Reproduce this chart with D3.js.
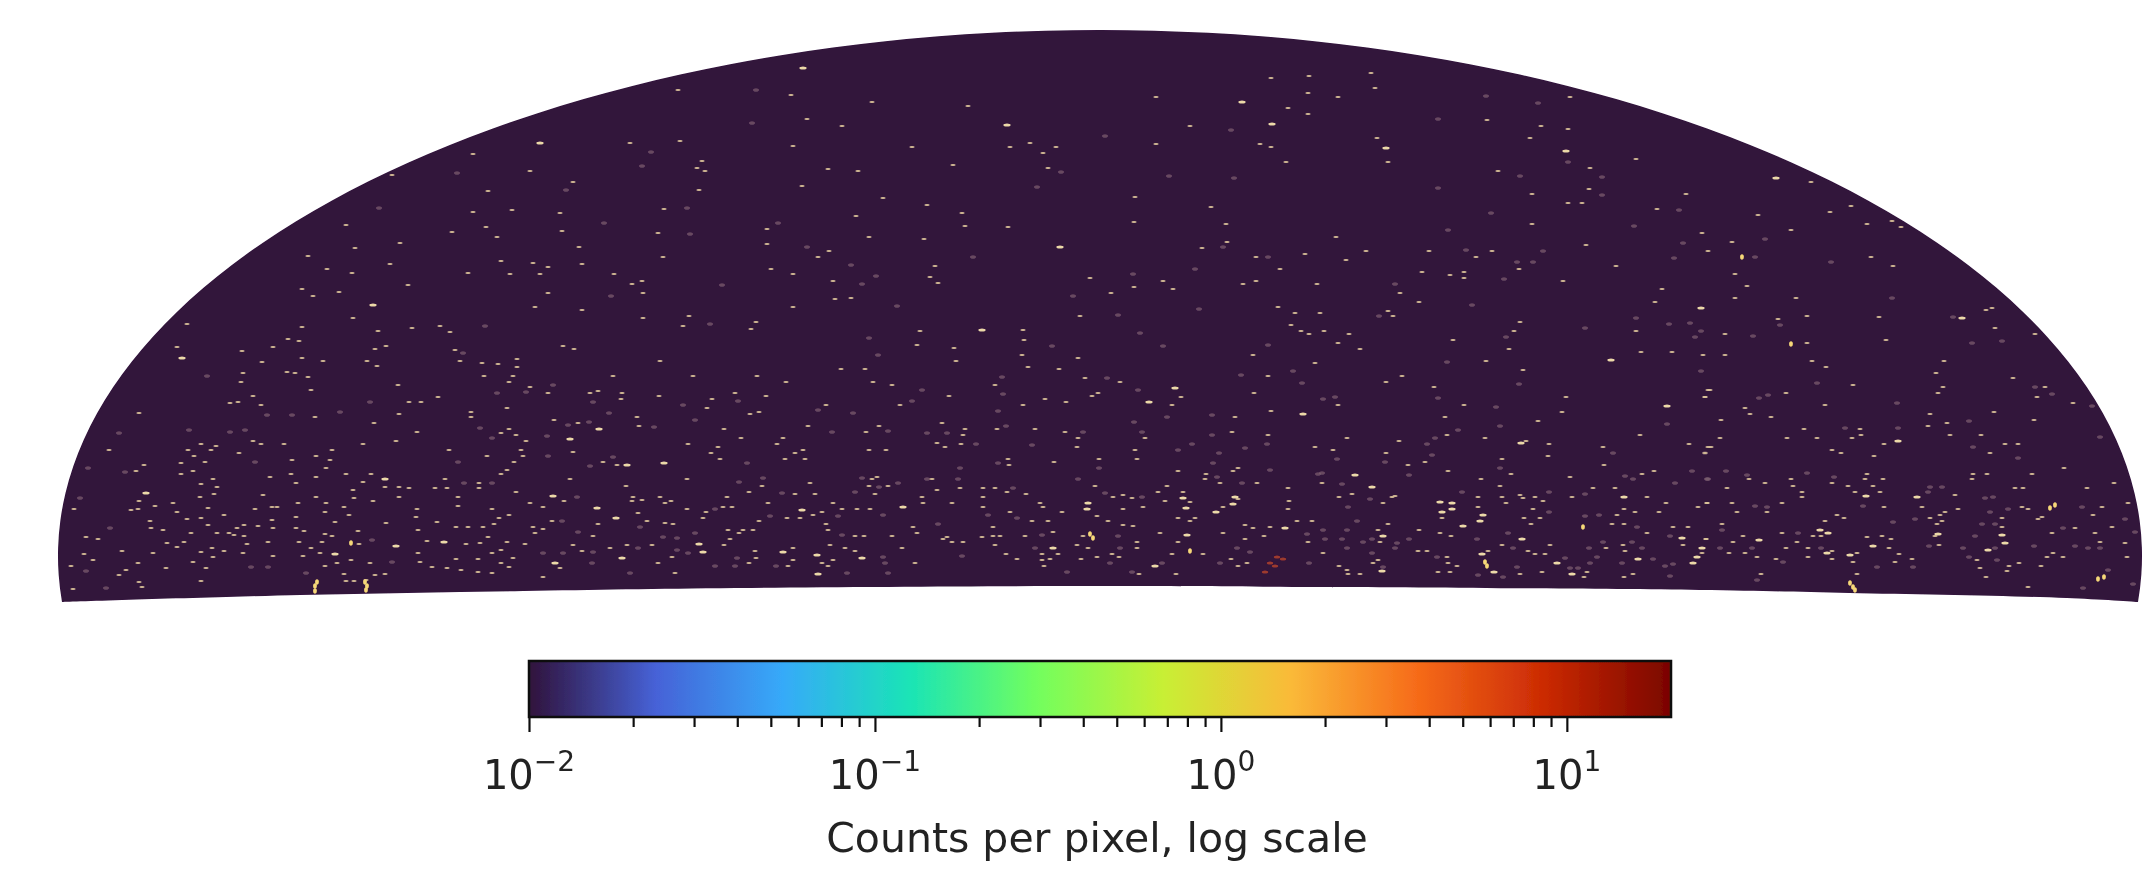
<!DOCTYPE html>
<html>
<head>
<meta charset="utf-8">
<script src="https://cdn.jsdelivr.net/npm/d3@7"></script>
<style>
  html, body { margin: 0; background: #fff; }
  text { font-family: "DejaVu Sans", sans-serif; fill: #222; }
</style>
</head>
<body>
<div id="plot_here"></div>
<script>
// sky map outline, in map units (centre of the flat edge = 0,0)
var outlineCentre = [0, 30];
var outlineRadii = [1042, 526];
var outlineCornerLeft = [-1038, -14];
var outlineCornerRight = [1038, -14];
var outlineBottom = [[1038,-14],[967,-10],[750,-5],[600,-2],[220,1],[-5,2],[-365,0],[-577,-3],[-800,-7],[-1038,-14]];

// detected pixels, split by how strong they look
var normalPoints = [
[-859,206],[-789,198],[-847,192],[-862,186],[-870,185],[-839,183],[-702,203],[-662,191],[-691,186],[-679,186],[-961,175],[-785,171],[-701,174],[-726,165],[-629,176],[-629,171],[-593,180],[-591,206],[-570,201],
[-847,147],[-839,144],[-816,144],[-737,144],[-704,147],[-683,156],[-599,155],[-591,159],[-584,153],[-574,147],[-991,138],[-899,144],[-884,142],[-889,138],[-912,138],[-906,132],[-861,135],[-768,138],[-784,132],[-770,128],[-808,128],[-651,138],[-613,132],[-579,138],[-577,132],[-586,126],[-956,123],[-964,117],[-919,125],[-895,126],[-907,117],[-919,114],[-774,120],[-830,111],[-809,114],[-804,105],[-784,111],[-754,114],[-729,114],[-737,106],[-701,101],[-691,100],[-715,101],[-655,109],[-621,105],[-599,114],[-593,118],[-887,109],[-899,104],[-883,101],[-665,100],[-653,100],[-621,100],[-886,94],[-900,91],[-961,87],[-837,93],[-784,91],[-747,98],[-746,90],[-701,91],[-727,87],[-642,91],[-584,96],
[-1026,79],[-969,78],[-962,79],[-945,82],[-927,85],[-892,80],[-845,79],[-828,81],[-823,81],[-802,85],[-774,85],[-756,81],[-642,82],[-608,79],[-683,79],[-570,85],[-923,76],[-913,69],[-899,70],[-892,63],[-876,73],[-828,68],[-804,71],[-775,76],[-765,66],[-751,73],[-714,65],[-684,71],[-591,73],[-601,70],[-950,67],[-949,60],[-937,58],[-909,55],[-883,55],[-871,55],[-863,60],[-856,63],[-842,62],[-827,60],[-804,60],[-796,57],[-742,57],[-663,66],[-682,58],[-644,61],[-632,61],[-617,61],[-606,64],[-567,61],
[-1014,51],[-1002,49],[-933,45],[-916,46],[-866,53],[-856,52],[-832,46],[-801,46],[-778,46],[-775,54],[-768,52],[-741,44],[-673,47],[-634,44],[-620,45],[-612,51],[-593,46],[-575,44],[-565,55],[-1016,34],[-978,37],[-947,35],[-923,41],[-899,36],[-888,40],[-876,37],[-857,35],[-853,44],[-827,32],[-797,32],[-780,35],[-749,28],[-789,40],[-730,25],[-682,35],[-680,26],[-644,29],[-622,29],[-599,38],[-587,30],[-608,35],[-1029,22],[-1007,28],[-962,25],[-974,18],[-981,13],[-934,20],[-907,26],[-894,20],[-887,31],[-775,22],[-763,25],[-653,20],[-639,18],[-622,16],[-608,15],[-599,25],[-591,21],[-668,21],[-756,14],[-725,13],[-715,14],[-899,7],[-961,6],[-958,1],[-1027,-1],[-754,7],[-746,7],[-734,8],
[-552,195],[-510,195],[-502,197],[-478,195],[-479,189],[-441,192],[-388,189],[-393,180],[-365,195],[-334,192],[-314,206],[-227,206],[-208,203],[-200,183],[-274,183],[-341,176],[-350,174],[-463,171],[-546,168],[-522,165],[-461,162],[-376,159],[-292,162],[-234,156],[-221,162],[-359,150],[-317,150],[-323,144],[-412,144],[-382,141],[-389,135],[-527,136],[-297,138],[-305,135],[-231,138],[-214,138],[-380,129],[-315,129],[-295,129],[-497,126],[-483,123],[-530,109],[-413,109],[-228,109],[-223,111],[-290,105],[-338,102],[-474,102],[-231,102],[-212,102],[-351,96],[-225,94],[-305,94],[-285,94],[-536,87],[-467,91],[-468,87],[-458,88],[-440,91],[-435,85],[-429,87],[-373,91],[-178,91],[-177,85],[-557,81],[-413,79],[-377,81],[-368,81],[-332,85],[-267,85],[-462,75],[-394,76],[-278,76],[-258,79],[-243,79],[-230,79],[-453,67],[-397,70],[-313,70],[-300,70],[-287,73],[-548,67],[-502,64],[-435,65],[-427,64],[-341,67],[-274,64],[-187,61],[-557,59],[-372,58],[-347,58],[-357,58],[-272,58],[-183,55],[-361,55],[-507,52],[-245,52],[-236,52],[-208,52],[-370,49],[-527,43],[-473,43],[-448,43],[-490,40],[-376,43],[-270,43],[-255,40],[-198,40],[-518,37],[-345,37],[-307,40],[-245,37],[-428,31],[-344,30],[-307,28],[-267,28],[-442,25],[-351,25],[-278,25],[-185,25],[-312,22],[-272,22],[-540,20],[-425,15],[-557,11],
[-105,203],[-151,192],[-55,189],[-77,183],[-34,186],[-8,192],[-2,195],[20,206],[81,191],[72,183],[154,195],[135,171],[171,177],[-158,165],[-135,159],[-103,159],[-65,159],[-35,156],[-137,153],[132,156],[168,153],[-22,150],[45,150],[-163,145],[-155,141],[-139,144],[-23,141],[35,138],[215,141],[-92,129],[-1,129],[37,129],[-46,126],[-91,123],[78,117],[138,120],[133,117],[106,114],[105,109],[-168,109],[120,105],[157,105],[-5,102],[67,102],[-163,98],[-140,100],[-117,100],[-105,100],[-93,96],[188,100],[58,96],[83,96],[-74,94],[23,93],[13,91],[32,90],[-117,91],[65,87],[138,89],[189,87],[-148,85],[-60,85],[90,86],[-57,81],[-117,81],[43,81],[23,79],[123,81],[188,79],[-90,76],[-38,76],[-3,72],[78,70],[-68,67],[-52,67],[8,67],[90,67],[95,70],[197,67],[212,67],[-107,61],[23,63],[33,62],[145,63],[153,60],[170,61],[-47,56],[60,55],[123,55],[-153,51],[-157,49],[-118,51],[-107,52],[-100,52],[-75,52],[-17,52],[78,46],[164,52],[145,49],[-148,46],[-137,46],[37,46],[208,46],[-105,43],[-23,43],[-12,40],[37,40],[-94,34],[-58,34],[-42,34],[12,34],[72,34],[103,34],[-83,29],[-50,29],[-58,28],[-19,29],[-3,31],[19,31],[131,29],[147,25],[-56,22],[138,22],[39,14],[76,14],
[286,206],[334,201],[238,183],[364,183],[466,191],[605,191],[608,198],[462,176],[345,171],[438,167],[247,150],[299,147],[347,153],[385,150],[540,153],[426,147],[449,144],[503,141],[589,144],[608,141],[233,138],[286,135],[605,135],[325,126],[402,129],[448,132],[504,123],[308,123],[348,117],[554,117],[542,114],[411,114],[470,111],[381,109],[222,105],[400,102],[493,100],[515,100],[252,94],[295,92],[239,91],[292,91],[378,91],[402,91],[420,93],[435,91],[472,91],[547,91],[423,90],[283,85],[406,85],[443,87],[566,85],[598,81],[607,85],[378,81],[433,79],[524,79],[535,76],[559,76],[517,73],[342,70],[424,70],[440,70],[288,64],[431,64],[512,64],[524,64],[573,61],[588,61],[278,58],[319,58],[340,55],[351,52],[547,55],[606,49],[280,46],[402,43],[450,43],[523,43],[583,43],[506,40],[223,35],[318,37],[327,37],[388,37],[428,37],[435,34],[445,34],[525,37],[347,31],[278,28],[348,25],[273,25],[239,22],[357,22],[247,18],[338,16],[350,16],[442,16],[487,16],[533,14],[260,14],[248,14],[420,14],[484,11],[524,11],
[610,198],[605,191],[753,203],[843,201],[838,195],[945,201],[937,191],[686,195],[725,183],[645,180],[650,174],[973,185],[894,176],[830,174],[671,171],[621,168],[934,168],[847,165],[828,162],[704,159],[760,159],[620,150],[687,150],[717,150],[752,150],[761,153],[850,153],[881,153],[784,144],[611,141],[905,144],[918,144],[732,138],[741,135],[890,135],[774,132],[964,120],[767,114],[873,114],[887,114],[932,114],[649,109],[691,109],[765,109],[783,109],[872,109],[665,105],[732,105],[1014,105],[693,102],[748,102],[773,102],[915,100],[923,100],[987,100],[627,100],[702,96],[755,96],[780,96],[702,91],[855,93],[607,85],[632,85],[682,85],[784,81],[822,81],[1028,85],[1002,81],[922,81],[928,79],[637,76],[667,76],[858,79],[845,76],[840,73],[993,73],[737,73],[744,70],[830,70],[902,70],[942,71],[725,67],[842,67],[837,64],[938,69],[622,64],[1012,61],[902,61],[975,60],[682,55],[952,55],[995,55],[643,52],[713,52],[721,52],[767,51],[782,52],[835,52],[606,49],[697,46],[791,49],[633,46],[1000,46],[1025,45],[839,43],[686,40],[708,40],[602,35],[629,35],[645,35],[732,37],[757,35],[789,40],[799,34],[953,35],[947,31],[963,31],[1027,31],[657,31],[708,31],[676,29],[732,29],[812,29],[877,28],[753,26],[795,26],[880,20],[909,22],[919,25],[907,17],[941,22],[757,14],[661,14],[886,11],[928,1],
[-627,434],[-570,417],[-708,413],[-527,406],[-612,397],[-588,378],[-627,376],[-540,375],[-754,363],[-614,361],[-538,357],[-648,356],[-603,351],[-700,345],[-521,341],[-745,340],[-792,332],[-599,327],[-518,324],[-710,324],[-773,319],[-567,325],[-552,321],[-632,315],[-748,315],[-590,314],[-560,314],[-692,303],[-798,299],[-761,296],[-787,292],[-552,295],[-565,281],[-518,278],[-747,270],[-913,264],[-660,262],[-798,261],[-688,260],[-650,256],[-722,257],[-812,249],[-801,247],[-923,241],[-714,242],[-537,242],[-725,239],[-827,241],[-526,239],[-858,237],[-645,238],[-798,230],[-777,227],[-640,227],[-583,229],[-838,226],[-733,227],[-723,222],[-618,225],[-602,224],[-583,221],[-813,216],[-805,215],[-857,215],[-792,211],[-616,212],[-587,212],
[-297,520],[-422,498],[-309,493],[-228,486],[-132,482],[-293,469],[-258,462],[-470,445],[-420,447],[-307,442],[-188,441],[-90,441],[-70,445],[-57,435],[-44,441],[-398,427],[-403,420],[-395,417],[-272,419],[-242,417],[-147,423],[-52,420],[-298,402],[-401,398],[-217,390],[-173,383],[-436,379],[-138,375],[-244,372],[-333,359],[-135,362],[-92,361],[-442,355],[-231,351],[-176,349],[-333,344],[-271,337],[-437,331],[-282,331],[-165,322],[-329,319],[-486,314],[-307,314],[-170,311],[-10,310],[-458,307],[-267,307],[-468,304],[-162,305],[-457,295],[-265,289],[-249,290],[-307,281],[-20,272],[-457,270],[-411,272],[-417,262],[-344,266],[-349,259],[-180,257],[-77,258],[-76,248],[-183,243],[-146,240],[-78,233],[-440,227],[-144,227],[-22,230],[-72,221],[-259,219],[-235,219],[-41,219],[-487,212],[-407,212],[-343,212],[-15,210],
[209,512],[171,510],[271,515],[275,500],[56,491],[208,495],[238,491],[188,480],[208,474],[470,491],[387,468],[90,462],[441,462],[468,459],[277,450],[430,450],[56,444],[160,444],[171,441],[186,426],[288,426],[490,420],[398,417],[489,399],[35,391],[432,394],[468,385],[482,385],[111,381],[34,366],[126,364],[432,364],[236,351],[127,346],[486,343],[102,340],[266,337],[329,337],[392,337],[205,334],[156,331],[246,328],[376,331],[180,319],[322,316],[419,319],[350,313],[364,316],[364,310],[63,307],[156,307],[463,307],[143,304],[217,304],[34,301],[73,299],[11,295],[300,295],[319,286],[178,281],[288,277],[195,275],[220,275],[293,272],[420,266],[191,263],[201,257],[224,257],[414,257],[209,254],[249,254],[353,248],[238,245],[409,239],[260,239],[153,233],[386,227],[215,225],[423,218],[168,212],[302,212],
[536,429],[711,406],[586,394],[557,379],[730,376],[751,382],[658,373],[792,367],[801,361],[767,364],[691,358],[602,355],[632,346],[608,337],[771,331],[793,322],[516,322],[635,314],[647,302],[562,299],[635,290],[696,290],[555,286],[892,280],[886,278],[779,271],[707,272],[678,269],[895,260],[536,257],[625,254],[935,254],[786,248],[707,245],[541,236],[572,236],[603,233],[625,233],[712,227],[844,227],[726,221],[836,215],[913,210]
];

var faintPoints = [
[-730,186],[-833,173],[-808,173],[-760,176],[-603,195],[-574,196],[-911,158],[-981,155],[-870,156],[-855,158],[-620,160],[-608,150],[-845,126],[-642,126],[-1012,120],[-975,116],[-636,105],[-608,105],[-1020,90],[-990,60],[-728,48],[-708,26],[-849,21],[-832,21],[-1014,17],[-794,15],[-994,0],
[-547,203],[-507,186],[-417,183],[-362,187],[-178,198],[-188,187],[-282,178],[-247,175],[-491,175],[-405,168],[-532,163],[-511,166],[-446,161],[-268,156],[-212,157],[-173,155],[-553,152],[-552,132],[-487,131],[-353,125],[-510,122],[-361,106],[-337,110],[-173,109],[-202,105],[-221,101],[-238,110],[-245,96],[-318,95],[-523,91],[-385,79],[-330,72],[-262,72],[-217,73],[-538,67],[-460,61],[-522,56],[-437,51],[-423,50],[-405,55],[-258,53],[-462,40],[-507,36],[-537,35],[-423,38],[-412,35],[-557,35],[-363,30],[-217,31],[-508,25],[-215,25],[-385,22],[-365,22],[-324,22],[-470,15],[-253,15],[-212,15],
[-97,194],[38,198],[202,205],[-102,177],[67,171],[112,173],[34,166],[-94,162],[-153,155],[-17,156],[42,156],[112,153],[-124,144],[-68,143],[92,144],[167,144],[78,138],[145,140],[119,135],[-102,125],[113,125],[-1,120],[170,118],[-140,120],[218,114],[117,111],[-142,109],[-22,109],[142,105],[-87,100],[5,95],[42,91],[-112,73],[-83,70],[-162,64],[-58,53],[18,52],[207,54],[-65,40],[20,40],[137,40],[150,36],[-138,32],[10,25],[120,25],[209,25],[62,25],[-33,16],[32,16],
[419,204],[235,191],[223,189],[338,190],[396,181],[400,162],[567,164],[358,158],[335,150],[327,144],[513,135],[332,133],[237,129],[285,126],[400,120],[592,117],[309,113],[525,112],[533,109],[222,115],[607,109],[242,104],[575,105],[362,96],[449,96],[270,89],[485,94],[248,81],[449,76],[485,72],[499,73],[257,67],[537,61],[223,58],[247,58],[408,55],[225,49],[242,49],[272,49],[309,49],[377,49],[570,52],[263,46],[503,46],[532,46],[297,45],[247,40],[295,40],[413,40],[489,40],[542,40],[272,35],[497,31],[337,31],[465,30],[522,25],[490,25],[553,29],[565,22],[573,24],[283,21],[417,21],[470,20],[478,20],[378,13],[403,11],[570,12],
[717,205],[935,201],[952,194],[668,193],[659,190],[797,185],[992,182],[869,167],[745,160],[798,160],[1000,151],[873,141],[605,135],[918,130],[626,117],[707,115],[647,113],[608,109],[734,111],[842,101],[830,101],[828,96],[885,90],[893,91],[763,82],[982,81],[908,79],[655,82],[667,81],[890,76],[815,69],[1025,69],[793,66],[882,64],[895,64],[622,58],[963,60],[698,55],[1035,56],[875,52],[975,42],[829,42],[620,40],[652,40],[721,40],[934,42],[988,40],[1000,40],[863,40],[895,40],[869,31],[683,26],[897,28],[777,21],[813,21],[1008,18],[657,8],[983,0],[1033,4],
[-534,398],[-721,380],[-615,262],[-637,235],[-893,212],[-643,415],[-344,498],[-348,465],[-449,436],[-458,422],[-39,416],[-63,401],[-413,380],[-496,365],[-322,365],[-410,354],[-293,341],[-127,331],[-249,323],[-224,312],[-238,304],[-378,303],[-489,292],[-27,292],[-203,282],[-390,264],[-231,250],[-48,242],[-222,233],[-98,211],
[386,492],[438,485],[338,469],[131,458],[5,452],[468,426],[420,412],[69,412],[134,410],[338,400],[391,375],[348,358],[123,341],[366,338],[443,337],[168,331],[417,326],[433,326],[95,319],[33,314],[404,309],[295,304],[372,283],[99,279],[279,272],[18,273],[485,260],[40,255],[406,251],[168,243],[63,242],[347,226],[193,217],[141,213],[7,210],
[502,411],[502,393],[579,378],[534,362],[665,349],[583,345],[574,330],[655,331],[731,326],[792,290],[853,271],[536,270],[569,264],[590,265],[680,263],[601,257],[595,251],[653,252],[902,247],[872,245],[601,217]
];

var brightPoints = [
[-715,109],[-954,95],[-704,42],[-656,46],[-765,34],[-501,159],[-530,149],[-473,123],[-436,125],[-547,92],[-503,80],[-484,70],[-298,78],[-197,81],[-401,44],[-397,36],[-317,36],[-283,33],[-478,30],[-238,30],[-545,25],[-282,14],
[75,200],[49,186],[203,174],[135,91],[83,90],[-12,85],[133,84],[-13,79],[86,80],[116,76],[185,60],[87,53],[-47,40],[55,22],
[567,182],[421,145],[255,113],[272,101],[524,91],[340,86],[352,85],[352,79],[342,76],[383,73],[380,67],[363,62],[283,52],[422,49],[582,50],[602,40],[382,34],[597,31],[538,29],[457,25],[593,25],[282,17],[394,16],[472,14],
[798,147],[766,92],[817,91],[838,54],[902,53],[659,48],[905,45],[773,42],[727,35],[750,33],[888,38],[720,58],[728,55],
[-560,445],[-727,283],[-918,230],[-297,520],[-93,463],[-118,258],[-40,341],[142,486],[172,464],[286,440],[466,437],[676,410],[601,280],[862,270],[511,228]
];

var hotPoints = [
[-749,45],[-10,54],[-7,50],[90,37],[483,61],[385,26],[387,22],[955,83],[950,80],[998,9],[1004,11],[642,331],[691,244],
[-785,-3],[-785,2],[-783,6],[-734,-2],[-733,2],[-735,6],[753,1],[750,5],[755,-2]
];

var redPoints = [[177,31],[170,25],[183,29],[165,16],[175,22]];

// colorbar
var colorDomain = [0.01, 20];
var turboStops = ["#30123b","#4662d7","#36aaf9","#1ae4b6","#72fe5e","#c8ef34","#faba39","#f66b19","#cb2a04","#7a0403"];
var majorTicks = [0.01, 0.1, 1, 10];
var majorExponents = ["\u22122", "\u22121", "0", "1"];
var minorTicks = [0.02,0.03,0.04,0.05,0.06,0.07,0.08,0.09,0.2,0.3,0.4,0.5,0.6,0.7,0.8,0.9,2,3,4,5,6,7,8,9];
var barLabel = "Counts per pixel, log scale";

var width = 2149, height = 880;

var svg = d3.select("#plot_here")
  .append("svg")
  .attr("width", width)
  .attr("height", height)
  .style("display", "block");

var defs = svg.append("defs");
defs.append("filter").attr("id", "soft")
  .attr("x", "-5%").attr("y", "-5%").attr("width", "110%").attr("height", "110%")
  .append("feGaussianBlur").attr("stdDeviation", 0.6);

var x = d3.scaleLinear().domain([-1042, 1042]).range([58, 2142]);
var y = d3.scaleLinear().domain([0, 556]).range([588, 32]);

var bottomEdge = d3.line()
  .x(function(d) { return x(d[0]); })
  .y(function(d) { return y(d[1]); })
  .curve(d3.curveCatmullRom);

var map = svg.append("g").attr("filter", "url(#soft)");

// upper edge is an ellipse arc between the two bottom corners
var rx = x(outlineCentre[0] + outlineRadii[0]) - x(outlineCentre[0]);
var ry = y(outlineCentre[1]) - y(outlineCentre[1] + outlineRadii[1]);
map.append("path")
  .attr("d", "M" + x(outlineCornerLeft[0]) + "," + y(outlineCornerLeft[1])
    + "A" + rx + "," + ry + " 0 1 1 " + x(outlineCornerRight[0]) + "," + y(outlineCornerRight[1])
    + "L" + bottomEdge(outlineBottom).slice(1) + "Z")
  .attr("fill", "#30123b");

// one group per strength, drawn faint to hot
var layers = [
  { pts: faintPoints,  fill: "#7f6272", rx: 3.0, ry: 1.8, op: 0.7 },
  { pts: redPoints,    fill: "#a8402c", rx: 3.2, ry: 1.6, op: 0.9 },
  { pts: normalPoints, fill: "#dcc49a", rx: 2.7, ry: 1.05, op: 0.95 },
  { pts: brightPoints, fill: "#ecd9a8", rx: 3.6, ry: 1.5, op: 1 },
  { pts: hotPoints,    fill: "#f6d878", rx: 1.9, ry: 2.8, op: 1 }
];

layers.forEach(function(layer) {
  map.append("g").selectAll("ellipse")
    .data(layer.pts)
    .enter()
    .append("ellipse")
      .attr("cx", function(d) { return x(d[0]); })
      .attr("cy", function(d) { return y(d[1]); })
      .attr("rx", layer.rx)
      .attr("ry", layer.ry)
      .attr("fill", layer.fill)
      .attr("opacity", layer.op);
});

// colorbar
var barTop = 661, barBottom = 717;
var c = d3.scaleLog().domain(colorDomain).range([529, 1671]);
var bar = svg.append("g").attr("filter", "url(#soft)");

var grad = defs.append("linearGradient").attr("id", "turbo");
grad.selectAll("stop")
  .data(turboStops)
  .enter()
  .append("stop")
    .attr("offset", function(d, i) { return i / (turboStops.length - 1); })
    .attr("stop-color", function(d) { return d; });

bar.append("rect")
  .attr("x", c(colorDomain[0]))
  .attr("y", barTop)
  .attr("width", c(colorDomain[1]) - c(colorDomain[0]))
  .attr("height", barBottom - barTop)
  .attr("fill", "url(#turbo)")
  .attr("stroke", "#111")
  .attr("stroke-width", 2.5);

var minorAxis = d3.axisBottom(c).tickValues(minorTicks).tickSize(10).tickFormat("");
var majorAxis = d3.axisBottom(c).tickValues(majorTicks).tickSize(15).tickFormat("");

[minorAxis, majorAxis].forEach(function(axis) {
  var g = bar.append("g")
    .attr("transform", "translate(0," + barBottom + ")")
    .call(axis);
  g.select(".domain").remove();
  g.selectAll("line").attr("stroke", "#111").attr("stroke-width", 2.2);
});

var tickLabels = bar.selectAll("text.tick-label")
  .data(majorTicks)
  .enter()
  .append("text")
    .attr("class", "tick-label")
    .attr("x", function(d) { return c(d); })
    .attr("y", 789)
    .attr("text-anchor", "middle")
    .style("font-size", "40px");
tickLabels.append("tspan").text("10");
tickLabels.append("tspan")
  .attr("dy", -18)
  .style("font-size", "28px")
  .text(function(d, i) { return majorExponents[i]; });

bar.append("text")
  .attr("x", 1097)
  .attr("y", 852)
  .attr("text-anchor", "middle")
  .style("font-size", "41px")
  .text(barLabel);
</script>
</body>
</html>
